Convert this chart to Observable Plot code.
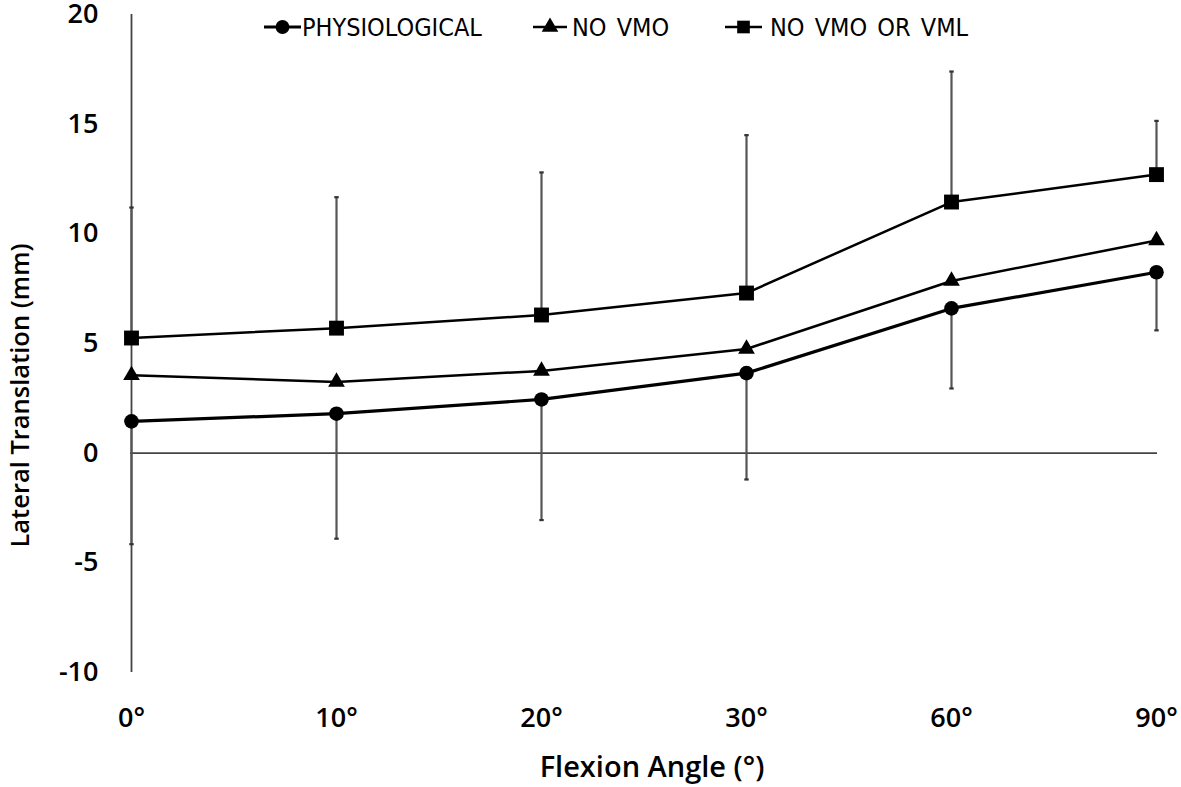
<!DOCTYPE html>
<html>
<head>
<meta charset="utf-8">
<script src="https://cdn.jsdelivr.net/npm/d3@7"></script>
<script src="https://cdn.jsdelivr.net/npm/@observablehq/plot@0.6"></script>
<style>
  html, body { margin: 0; padding: 0; background: #fff; }
  #wrap { position: relative; width: 1181px; height: 787px; }
  .legend-item { position: absolute; top: 13px; height: 28px; display: flex; align-items: center;
    font-family: "Liberation Sans Narrow", "DejaVu Sans Condensed", "Liberation Sans", sans-serif;
    font-size: 25px; word-spacing: 3px; color: #000; white-space: nowrap; }
  .legend-item svg { display: block; }
</style>
</head>
<body>
<div id="wrap"></div>
<script>
const angles = ["0°", "10°", "20°", "30°", "60°", "90°"];
const physiological = [1.45, 1.8, 2.45, 3.65, 6.6, 8.25];
const noVMO = [3.55, 3.25, 3.75, 4.75, 7.85, 9.7];
const noVMOorVML = [5.25, 5.7, 6.3, 7.3, 11.45, 12.7];
const physiologicalErr = [5.6, 5.7, 5.5, 4.85, 3.65, 2.65];   // drawn downward
const noVMOorVMLErr = [5.95, 5.97, 6.5, 7.2, 5.95, 2.45];    // drawn upward
const yTicks = [-10, -5, 0, 5, 10, 15, 20];
const seriesNames = ["PHYSIOLOGICAL", "NO VMO", "NO VMO OR VML"];
const seriesSymbols = ["circle", "triangle", "square"];

const phys = angles.map((a, i) => ({angle: a, value: physiological[i], lo: physiological[i] - physiologicalErr[i]}));
const nvmo = angles.map((a, i) => ({angle: a, value: noVMO[i]}));
const nboth = angles.map((a, i) => ({angle: a, value: noVMOorVML[i], hi: noVMOorVML[i] + noVMOorVMLErr[i]}));

const capSymbol = {
  draw(ctx, size) {
    const w = Math.sqrt(size) / 2;
    ctx.moveTo(-w, 0);
    ctx.lineTo(w, 0);
  }
};

const font = "'Open Sans', 'Noto Sans', sans-serif";

const chart = Plot.plot({
  width: 1181,
  height: 787,
  marginLeft: 130,
  marginRight: 24,
  marginTop: 14,
  marginBottom: 115,
  style: {fontFamily: font, fontSize: "28px", color: "#000", background: "#fff", fontWeight: 600},
  x: {type: "point", domain: angles, padding: 0, label: null},
  y: {domain: [-10, 20], ticks: yTicks, label: null},
  marks: [
    Plot.axisY({ticks: yTicks, tickSize: 0, tickPadding: 32, fontSize: 27, tickFormat: d => String(d)}),
    Plot.axisX({tickSize: 0, tickPadding: 35, fontSize: 27}),
    Plot.ruleX([angles[0]], {y1: -10, y2: 20, stroke: "#444", strokeWidth: 1.8}),
    Plot.ruleY([0], {stroke: "#444", strokeWidth: 1.8}),
    Plot.ruleX(nboth, {x: "angle", y1: "value", y2: "hi", stroke: "#555", strokeWidth: 2.2}),
    Plot.ruleX(phys, {x: "angle", y1: "lo", y2: "value", stroke: "#555", strokeWidth: 2.2}),
    Plot.dot(nboth, {x: "angle", y: "hi", symbol: capSymbol, r: 2.5, stroke: "#333", strokeWidth: 2.2}),
    Plot.dot(phys, {x: "angle", y: "lo", symbol: capSymbol, r: 2.5, stroke: "#333", strokeWidth: 2.2}),
    Plot.line(nboth, {x: "angle", y: "value", stroke: "#000", strokeWidth: 2.5}),
    Plot.line(nvmo, {x: "angle", y: "value", stroke: "#000", strokeWidth: 2.5}),
    Plot.line(phys, {x: "angle", y: "value", stroke: "#000", strokeWidth: 3.2}),
    Plot.dot(nboth, {x: "angle", y: "value", symbol: "square", r: 8.4, fill: "#000"}),
    Plot.dot(nvmo, {x: "angle", y: "value", symbol: "triangle", r: 6.2, fill: "#000"}),
    Plot.dot(phys, {x: "angle", y: "value", symbol: "circle", r: 7.3, fill: "#000"}),
    Plot.text(["Lateral Translation (mm)"], {frameAnchor: "left", textAnchor: "middle", lineAnchor: "middle", dx: -110, dy: 52, rotate: -90, fontSize: 25.5, fill: "#000"}),
    Plot.text(["Flexion Angle (°)"], {frameAnchor: "bottom", textAnchor: "middle", lineAnchor: "middle", dx: 8, dy: 95, fontSize: 29, fill: "#000"})
  ]
});

const wrap = document.getElementById("wrap");
wrap.appendChild(chart);

// Legend (HTML overlay above the plot area): line start, line end, text start
const legendLayout = [[264, 301, 302], [533, 567, 572], [725, 762, 770]];
seriesNames.forEach((name, i) => {
  const [x1, x2, tx] = legendLayout[i];
  const item = document.createElement("div");
  item.className = "legend-item";
  item.style.left = x1 + "px";
  const sym = d3.symbol().type(
    seriesSymbols[i] === "circle" ? d3.symbolCircle : seriesSymbols[i] === "triangle" ? d3.symbolTriangle : d3.symbolSquare
  ).size(seriesSymbols[i] === "square" ? 160 : seriesSymbols[i] === "triangle" ? 120 : 150);
  const svgNS = "http://www.w3.org/2000/svg";
  const s = document.createElementNS(svgNS, "svg");
  const w = x2 - x1;
  s.setAttribute("width", w);
  s.setAttribute("height", 28);
  const ln = document.createElementNS(svgNS, "line");
  ln.setAttribute("x1", 0); ln.setAttribute("x2", w);
  ln.setAttribute("y1", 14); ln.setAttribute("y2", 14);
  ln.setAttribute("stroke", "#000"); ln.setAttribute("stroke-width", i === 0 ? 3.2 : 2.5);
  s.appendChild(ln);
  const p = document.createElementNS(svgNS, "path");
  p.setAttribute("d", sym());
  p.setAttribute("transform", `translate(${w / 2},14)`);
  p.setAttribute("fill", "#000");
  s.appendChild(p);
  item.appendChild(s);
  const t = document.createElement("span");
  t.textContent = name;
  t.style.marginLeft = (tx - x2) + "px";
  item.appendChild(t);
  wrap.appendChild(item);
});
</script>
</body>
</html>
